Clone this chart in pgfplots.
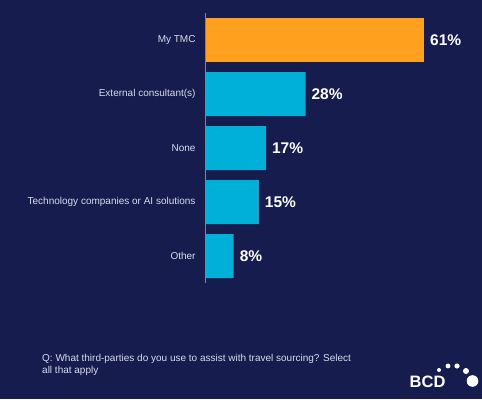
\documentclass[border=0pt]{standalone}
\usepackage{pgfplots}
\pgfplotsset{compat=1.18}
\usepackage{fontspec}
\setmainfont{Liberation Sans}
\definecolor{bgnavy}{RGB}{22,28,77}
\definecolor{barorange}{RGB}{255,160,30}
\definecolor{barcyan}{RGB}{0,176,216}
\definecolor{axisgrey}{RGB}{125,130,160}
\definecolor{labelgrey}{RGB}{215,220,235}
\begin{document}
\begin{tikzpicture}[x=1pt,y=1pt]
\fill[bgnavy] (0,0) rectangle (482,399);
\begin{axis}[
  at={(205pt,116pt)}, anchor=south west,
  scale only axis, width=273pt, height=270pt,
  xbar, bar width=44pt,
  xmin=0, xmax=76,
  ymin=-0.5, ymax=4.5, y dir=reverse,
  ytick={0,1,2,3,4},
  yticklabels={My TMC, External consultant(s), None, Technology companies or AI solutions, Other},
  yticklabel style={font=\fontsize{10}{12}\selectfont, text=labelgrey, inner sep=0pt, xshift=-5pt},
  ytick style={draw=none},
  xtick=\empty,
  axis line style={draw=none},
  clip=false,
  /pgf/number format/assume math mode=true,
  nodes near coords={\pgfmathprintnumber{\pgfplotspointmeta}\%},
  nodes near coords style={font=\bfseries\fontsize{15.5}{17}\selectfont, text=white, anchor=west, xshift=2.5pt},
  point meta=explicit,
]
\addplot[fill=barorange, draw=none, bar shift=0pt] coordinates {(61,0) [61]};
\addplot[fill=barcyan, draw=none, bar shift=0pt] coordinates {(28,1) [28] (17,2) [17] (15,3) [15] (8,4) [8]};
\draw[axisgrey, line width=0.9pt] (axis cs:0,-0.5) -- (axis cs:0,4.5);
\end{axis}
\node[anchor=north west, align=left, text=labelgrey, font=\fontsize{10}{12.5}\selectfont, inner sep=0pt] at (42,45)
  {Q: What third-parties do you use to assist with travel sourcing? Select\\all that apply};
\node[anchor=base west, text=white, font=\bfseries\fontsize{16.5}{17}\selectfont, inner sep=0pt] at (409.5,11) {BCD};
\fill[white] (472.5,18) circle (5.8);
\fill[white] (466,28) circle (3);
\fill[white] (457,33) circle (2.6);
\fill[white] (448,33) circle (2.4);
\fill[white] (439,29) circle (2);
\pgfresetboundingbox
\path[use as bounding box] (0,0) rectangle (482,399);
\end{tikzpicture}
\end{document}
